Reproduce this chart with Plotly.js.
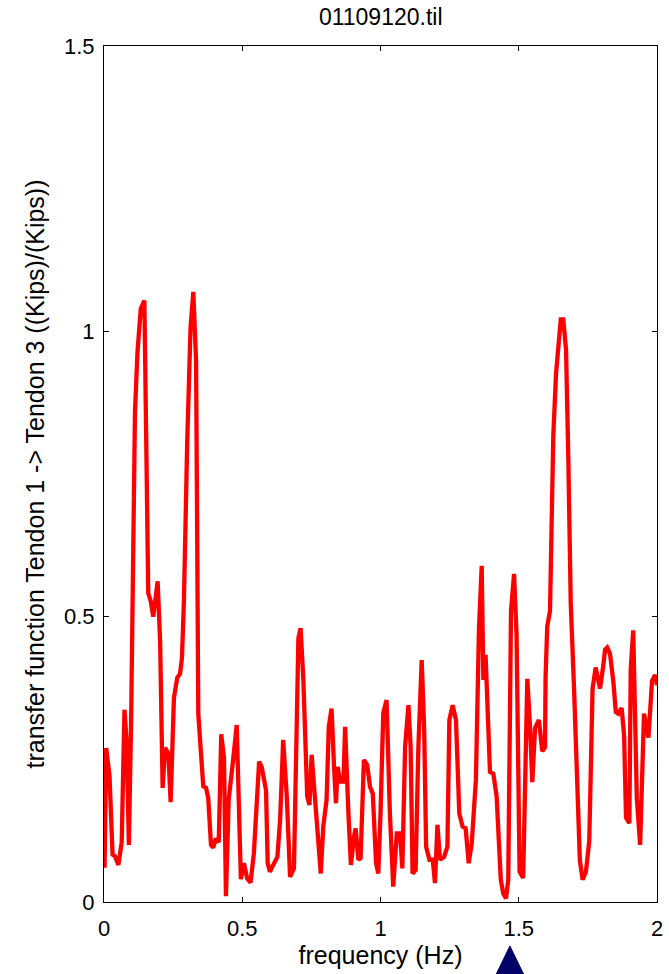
<!DOCTYPE html>
<html>
<head>
<meta charset="utf-8">
<script src="https://cdn.plot.ly/plotly-3.0.1.min.js"></script>
<style>html,body{margin:0;padding:0;background:#fff;}#chart{width:669px;height:974px;}</style>
</head>
<body>
<div id="chart"></div>
<script>
const freq = [0.002,0.008,0.02,0.031,0.04,0.052,0.064,0.074,0.082,0.09,0.098,0.106,0.112,0.121,0.133,0.146,0.152,0.16,0.169,0.178,0.187,0.194,0.203,0.212,0.221,0.233,0.241,0.253,0.265,0.275,0.282,0.289,0.301,0.313,0.323,0.333,0.341,0.351,0.359,0.369,0.377,0.387,0.395,0.404,0.415,0.424,0.434,0.441,0.451,0.465,0.48,0.495,0.506,0.518,0.53,0.542,0.561,0.57,0.586,0.592,0.6,0.612,0.627,0.637,0.648,0.661,0.673,0.687,0.697,0.703,0.711,0.721,0.735,0.743,0.751,0.763,0.775,0.784,0.793,0.805,0.813,0.823,0.832,0.839,0.845,0.854,0.866,0.872,0.884,0.893,0.904,0.91,0.92,0.928,0.94,0.952,0.962,0.972,0.984,0.992,1.0,1.01,1.022,1.034,1.046,1.059,1.071,1.079,1.089,1.101,1.109,1.116,1.127,1.137,1.149,1.158,1.165,1.177,1.189,1.197,1.206,1.215,1.23,1.242,1.249,1.261,1.273,1.285,1.297,1.308,1.319,1.33,1.345,1.356,1.366,1.372,1.38,1.396,1.408,1.42,1.435,1.444,1.454,1.462,1.472,1.483,1.492,1.503,1.516,1.531,1.541,1.549,1.559,1.573,1.585,1.595,1.597,1.603,1.613,1.619,1.625,1.635,1.644,1.652,1.661,1.671,1.679,1.688,1.7,1.712,1.721,1.731,1.743,1.755,1.767,1.778,1.794,1.806,1.812,1.82,1.83,1.842,1.851,1.86,1.872,1.881,1.888,1.9,1.905,1.914,1.927,1.939,1.953,1.969,1.982,1.993,2.0];
const transfer = [0.06,0.27,0.22,0.083,0.08,0.065,0.104,0.337,0.28,0.10,0.316,0.668,0.858,0.963,1.04,1.054,0.808,0.541,0.527,0.5,0.534,0.562,0.456,0.2,0.27,0.26,0.175,0.358,0.393,0.40,0.428,0.527,0.808,1.006,1.069,0.949,0.33,0.259,0.203,0.2,0.182,0.1,0.095,0.111,0.105,0.294,0.252,0.01,0.18,0.24,0.31,0.04,0.068,0.041,0.034,0.085,0.246,0.237,0.196,0.068,0.053,0.065,0.079,0.144,0.284,0.185,0.044,0.059,0.29,0.462,0.48,0.389,0.185,0.17,0.258,0.19,0.109,0.05,0.132,0.179,0.307,0.339,0.237,0.173,0.237,0.211,0.211,0.307,0.155,0.065,0.114,0.129,0.074,0.077,0.249,0.24,0.202,0.19,0.068,0.05,0.155,0.331,0.354,0.155,0.027,0.12,0.12,0.059,0.272,0.345,0.272,0.05,0.056,0.272,0.424,0.301,0.097,0.074,0.074,0.033,0.135,0.074,0.079,0.097,0.319,0.345,0.319,0.155,0.132,0.129,0.068,0.103,0.214,0.477,0.589,0.389,0.433,0.228,0.225,0.185,0.039,0.015,0.006,0.039,0.51,0.575,0.47,0.053,0.042,0.391,0.305,0.21,0.305,0.319,0.264,0.271,0.394,0.483,0.51,0.647,0.818,0.927,0.988,1.021,1.021,0.968,0.784,0.524,0.374,0.182,0.073,0.039,0.053,0.107,0.374,0.411,0.374,0.415,0.442,0.446,0.435,0.387,0.333,0.33,0.34,0.292,0.148,0.138,0.408,0.476,0.182,0.1,0.33,0.288,0.387,0.398,0.38];
const xTicks = [0, 0.5, 1, 1.5, 2];
const xTickLabels = ['0', '0.5', '1', '1.5', '2'];
const yTicks = [0, 0.5, 1, 1.5];
const yTickLabels = ['0', '0.5', '1', '1.5'];
const markerFreq = 1.468;
const xRange = [0, 2];
const yRange = [0, 1.5];

const fontFam = 'Liberation Sans, Arial, sans-serif';
const trace = {
  x: freq, y: transfer, type: 'scatter', mode: 'lines',
  line: {color: '#ff0000', width: 4.3}, hoverinfo: 'skip'
};
const px = (markerFreq - xRange[0]) / (xRange[1] - xRange[0]);
const hw = 0.029;
const layout = {
  width: 669, height: 974,
  margin: {l: 104, r: 12, t: 46, b: 72},
  paper_bgcolor: '#ffffff', plot_bgcolor: '#ffffff',
  showlegend: false,
  font: {family: fontFam, color: '#000', size: 22},
  title: {text: '01109120.til', font: {family: fontFam, size: 23, color: '#000'}, x: 0.5691, xanchor: 'center', y: 0.9825, yanchor: 'middle'},
  xaxis: {
    range: xRange, tickvals: xTicks, ticktext: xTickLabels,
    ticks: 'inside', ticklen: 5, tickwidth: 1, tickcolor: '#000',
    showline: true, linecolor: '#000', linewidth: 1, mirror: 'ticks',
    showgrid: false, zeroline: false, ticklabelstandoff: 7,
    tickfont: {family: fontFam, size: 22, color: '#000'},
    title: {text: 'frequency (Hz)', font: {family: fontFam, size: 25, color: '#000'}, standoff: 4}
  },
  yaxis: {
    range: yRange, tickvals: yTicks, ticktext: yTickLabels,
    ticks: 'inside', ticklen: 5, tickwidth: 1, tickcolor: '#000',
    showline: true, linecolor: '#000', linewidth: 1, mirror: 'ticks',
    showgrid: false, zeroline: false, ticklabelstandoff: 4,
    tickfont: {family: fontFam, size: 22, color: '#000'},
    title: {text: 'transfer function Tendon 1 -> Tendon 3 ((Kips)/(Kips))', font: {family: fontFam, size: 25, color: '#000'}, standoff: 12}
  },
  shapes: [{
    type: 'path', xref: 'paper', yref: 'paper',
    path: 'M ' + (px - hw) + ' -0.09 L ' + px + ' -0.0514 L ' + (px + hw) + ' -0.09 Z',
    fillcolor: '#000066', line: {color: '#000066', width: 1}
  }]
};
Plotly.newPlot('chart', [trace], layout, {staticPlot: true, displayModeBar: false});
</script>
</body>
</html>
